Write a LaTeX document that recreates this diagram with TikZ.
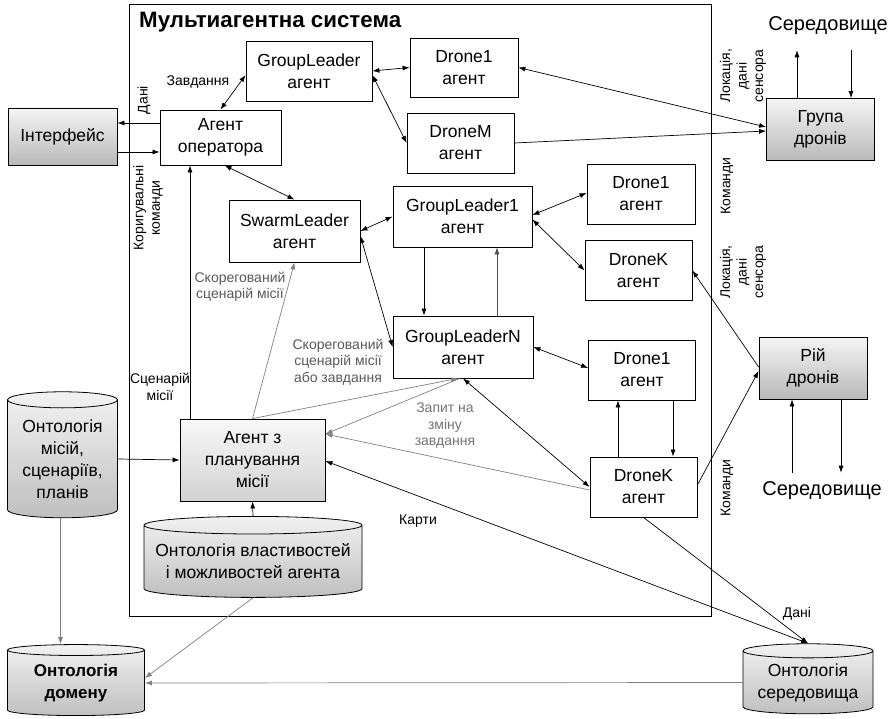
\documentclass[tikz,border=0pt]{standalone}
\usepackage{fontspec}
\setmainfont{Liberation Sans}
\usetikzlibrary{arrows.meta,shapes.geometric}

\begin{document}
\begin{tikzpicture}[x=1pt, y=-1pt,
    every node/.append style={font=\fontsize{17.5}{22}\selectfont, align=center, inner sep=0pt},
    agent/.style={draw, line width=.8pt, minimum width=107pt, minimum height=60pt},
    shadebox/.style={agent, top color=gray!8, bottom color=gray!55},
    lightbox/.style={agent, top color=gray!5, bottom color=gray!35},
    ontology/.style={cylinder, shape border rotate=90, draw, line width=.8pt,
        top color=gray!10, bottom color=gray!50},
    lbl/.style={font=\fontsize{14}{16.5}\selectfont},
    greylbl/.style={lbl, text=black!65},
    arr/.style={line width=.7pt, -{Latex[length=7pt,width=5pt]}},
    biarr/.style={line width=.7pt, {Latex[length=7pt,width=5pt]}-{Latex[length=7pt,width=5pt]}},
    greyarr/.style={arr, draw=black!50}
]

    \useasboundingbox (0,0) rectangle (891,719);

    % frame of the multi-agent system
    \draw[line width=.9pt] (129,4) rectangle (711,616);
    \node[anchor=west, font=\fontsize{22.3}{26}\selectfont\bfseries] (title) at (139,22) {Мультиагентна система};

    % agents inside the frame
    \node[agent, minimum width=121pt, minimum height=55pt] (opAgent) at (220.5,137.5) {Агент\\оператора};
    \node[agent, minimum width=126pt] (gl) at (309,71) {GroupLeader\\агент};
    \node[agent, minimum width=108pt, minimum height=59pt] (dOneTop) at (464,67.5) {Drone1\\агент};
    \node[agent] (dM) at (460.5,143) {DroneM\\агент};
    \node[agent, minimum width=131pt, minimum height=62pt] (swarm) at (294.5,231) {SwarmLeader\\агент};
    \node[agent, minimum width=139pt, minimum height=61pt] (glOne) at (462.5,216.5) {GroupLeader1\\агент};
    \node[agent, minimum width=108pt] (dOneMid) at (641,194) {Drone1\\агент};
    \node[agent] (dKMid) at (638.5,270.5) {DroneK\\агент};
    \node[agent, minimum width=140pt, minimum height=62pt] (glN) at (463,347) {GroupLeaderN\\агент};
    \node[agent] (dOneLow) at (642,370) {Drone1\\агент};
    \node[agent] (dKLow) at (643.5,487) {DroneK\\агент};
    \node[lightbox, minimum width=145pt, minimum height=82pt] (plan) at (252.5,460) {Агент з\\планування\\місії};

    % outside boxes and ontologies
    \node[shadebox, minimum width=109pt, minimum height=57pt] (iface) at (62.5,136.5) {Інтерфейс};
    \node[shadebox, minimum width=108pt, minimum height=62pt] (groupDr) at (820.5,129.5) {Група\\дронів};
    \node[shadebox, minimum width=108pt, minimum height=62pt] (swarmDr) at (813,368) {Рій\\дронів};
    \node[font=\fontsize{20}{24}\selectfont, inner ysep=15pt] (envTop) at (828,26) {Середовище};
    \node[font=\fontsize{20}{24}\selectfont, inner ysep=9pt] (envBot) at (822,491) {Середовище};

    \node[ontology, minimum width=110pt, minimum height=126pt, aspect=.2] (ontMis) at (62.5,459) {Онтологія\\місій,\\сценаріїв,\\планів};
    \node[ontology, minimum width=218pt, minimum height=81pt, aspect=.09] (ontProp) at (253,561.5) {Онтологія властивостей\\і можливостей агента};
    \node[ontology, minimum width=137pt, minimum height=71pt, aspect=.13, font=\fontsize{17}{22}\selectfont\bfseries] (ontDom) at (76,683) {Онтологія\\домену};
    \node[ontology, minimum width=130pt, minimum height=70pt, aspect=.14] (ontEnv) at (808,682.5) {Онтологія\\середовища};

    % connectors
    \draw[arr] ([yshift=14.5pt]opAgent.west) -- ([yshift=13.5pt]iface.east);
    \draw[arr] ([yshift=-15.5pt]iface.east) -- ([yshift=-14.5pt]opAgent.west);
    \draw[biarr] (opAgent.north) -- ([yshift=-4pt]gl.west);
    \draw[biarr] (gl.east) -- (dOneTop.west);
    \draw[biarr] ([yshift=-4pt]gl.east) -- (dM.west);
    \draw[biarr] (dOneTop.east) -- ([yshift=2.5pt]groupDr.west);
    \draw[arr] (dM.east) -- ([yshift=-1.5pt]groupDr.west);
    \draw[biarr] ([xshift=4pt]opAgent.south) -- (swarm.north);
    \draw[biarr] (swarm.east) -- (glOne.west);
    \draw[biarr] ([yshift=-5pt]swarm.east) -- (glN.west);
    \draw[arr] ([xshift=-38.5pt]glOne.south) -- ([xshift=-38.5pt]glOne.south |- glN.north);
    \draw[arr, draw=black!70] ([xshift=34.5pt]glOne.south |- glN.north) -- ([xshift=34.5pt]glOne.south);
    \draw[biarr] ([yshift=1.5pt]glOne.east) -- ([yshift=1pt]dOneMid.west);
    \draw[biarr] ([yshift=-3pt]glOne.east) -- (dKMid.west);
    \draw[biarr] (glN.east) -- ([yshift=2pt]dOneLow.west);
    \draw[arr] ([xshift=31pt]dOneLow.south) -- ([xshift=31pt]dOneLow.south |- dKLow.north);
    \draw[arr] ([xshift=-24pt]dOneLow.south |- dKLow.north) -- ([xshift=-24pt]dOneLow.south);
    \draw[biarr] (dKLow.west) -- (glN.south);
    \draw[greyarr] ([yshift=-3pt]dKLow.west) -- ([yshift=26pt]plan.east);
    \draw[greyarr] ([xshift=-3pt]glN.south) -- ([yshift=26pt]plan.east);
    \draw[greyarr] (plan.north) -- ([xshift=-5pt]glN.south);
    \draw[greyarr] (plan.north) -- (swarm.south);
    \draw[arr] ([xshift=-62.5pt]plan.north) -- ([xshift=-62.5pt]plan.north |- opAgent.south);
    \draw[arr] (ontMis.east) -- (plan.west);
    \draw[arr] (ontProp.north) -- (plan.south);
    \draw[biarr] ([yshift=-1pt]plan.east) -- (ontEnv.north);
    \draw[arr] (dKLow.south) -- (ontEnv.north);
    \draw[greyarr] (ontEnv.west) -- (ontDom.east);
    \draw[greyarr] ([xshift=-2pt]ontMis.south) -- ([xshift=-2pt]ontMis.south |- ontDom.north);
    \draw[greyarr] (ontProp.south) -- ([yshift=5pt]ontDom.east);
    \draw[arr] ([yshift=2pt]dKLow.east) -- ([yshift=-3pt]swarmDr.west);
    \draw[arr] ([yshift=1pt]swarmDr.west) -- (dKMid.east);
    \draw[arr] ([xshift=-21pt]swarmDr.south |- envBot.north) -- ([xshift=-21pt]swarmDr.south);
    \draw[arr] ([xshift=28pt]swarmDr.south) -- ([xshift=28pt]swarmDr.south |- envBot.north);
    \draw[arr] ([xshift=-23.5pt]groupDr.north) -- ([xshift=-23.5pt]groupDr.north |- envTop.south);
    \draw[arr] ([xshift=30.5pt]groupDr.north |- envTop.south) -- ([xshift=30.5pt]groupDr.north);

    % connector labels
    \node[lbl, rotate=90] (lData) at (144,100) {Дані};
    \node[lbl, rotate=90] (lCorr) at (148,208) {Коригувальні\\команди};
    \node[lbl] (lTask) at (198,82) {Завдання};
    \node[greylbl] (lCorrScen) at (240,287) {Скорегований\\сценарій місії};
    \node[greylbl] (lCorrTask) at (338,362) {Скорегований\\сценарій місії\\або завдання};
    \node[greylbl, text=black!55] (lRequest) at (445,426) {Запит на\\зміну\\завдання};
    \node[lbl] (lScen) at (160,387) {Сценарій\\місії};
    \node[lbl] (lMaps) at (418,521) {Карти};
    \node[lbl] (lEnvData) at (797,614) {Дані};
    \node[lbl, rotate=90] (lLocTop) at (743,76) {Локація,\\дані\\сенсора};
    \node[lbl, rotate=90] (lCmdTop) at (727,186) {Команди};
    \node[lbl, rotate=90] (lLocBot) at (743,272) {Локація,\\дані\\сенсора};
    \node[lbl, rotate=90] (lCmdBot) at (727,488) {Команди};

\end{tikzpicture}
\end{document}
